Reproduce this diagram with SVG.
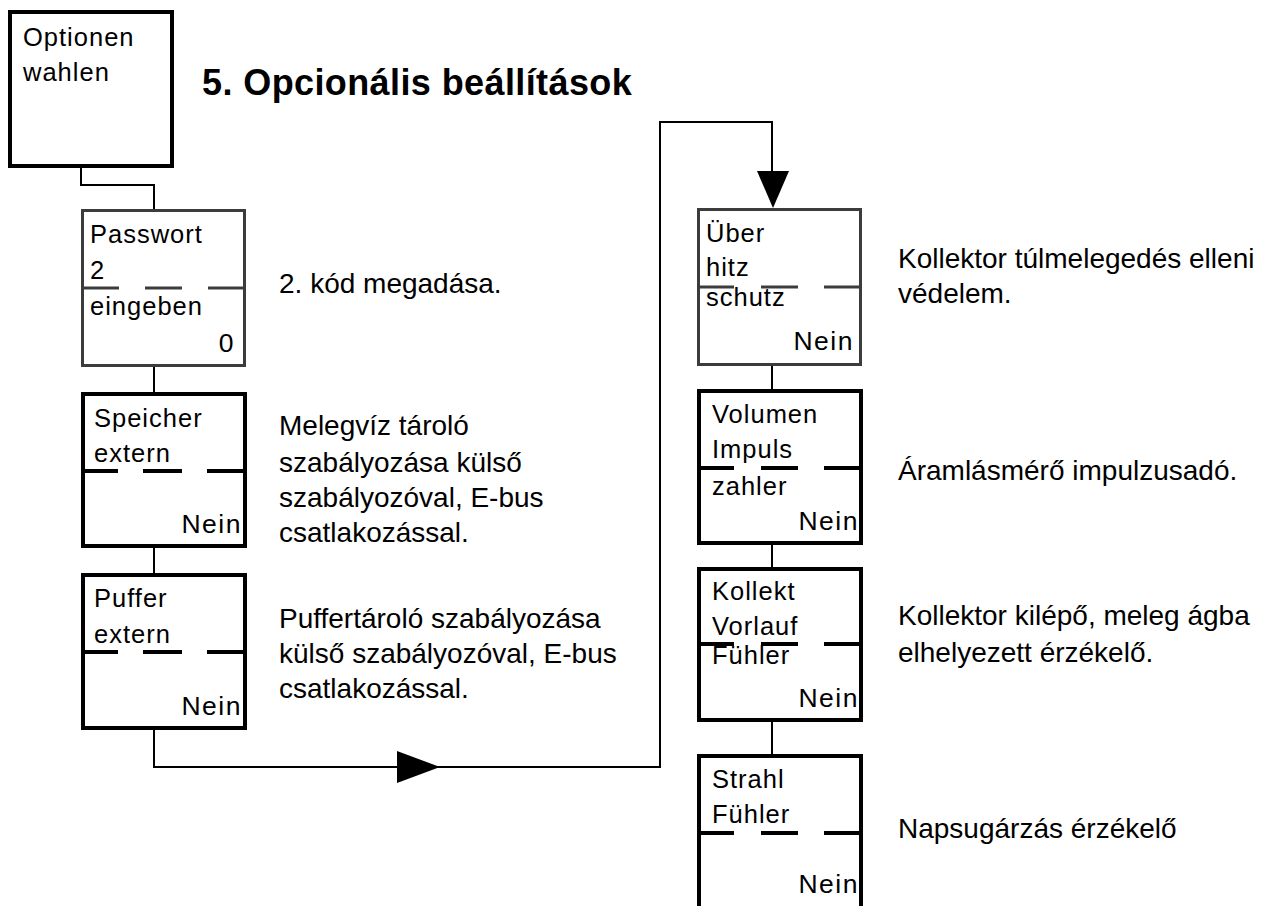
<svg xmlns="http://www.w3.org/2000/svg" width="1263" height="906" viewBox="0 0 1263 906">
<style>
text{font-family:"Liberation Sans",Arial,sans-serif;font-size:28px;fill:#000}
.t{font-weight:bold;font-size:36px;letter-spacing:0.4px}
.n text{font-size:25.5px;letter-spacing:1px}
.box{fill:#fff;stroke:#000;stroke-width:4}
.gbox{fill:#fff;stroke:#3c3c3c;stroke-width:3}
.dash{stroke:#000;stroke-width:4;fill:none}
.gdash{stroke:#3c3c3c;stroke-width:3;fill:none}
.con{stroke:#000;stroke-width:2;fill:none}
.n text.end{text-anchor:end;font-size:26.5px;letter-spacing:1.5px}
</style>
<rect width="1263" height="906" fill="#fff"/>
<g id="connectors">
<polyline class="con" points="81,167 81,185 154,185 154,209"/>
<line class="con" x1="154" y1="367" x2="154" y2="392"/>
<line class="con" x1="154" y1="548" x2="154" y2="573"/>
<polyline class="con" points="154,730 154,767 660,767 660,122 772,122 772,175"/>
<polygon points="397,751 440,767 397,783" fill="#000"/>
<polygon points="757,171 789,171 773,208" fill="#000"/>
<line class="con" x1="772" y1="366" x2="772" y2="389"/>
<line class="con" x1="772" y1="545" x2="772" y2="567"/>
<line class="con" x1="772" y1="722" x2="772" y2="754"/>
</g>
<g id="title"><text class="t" x="202" y="95">5. Opcionális beállítások</text></g>
<g id="optionen" class="n">
<rect class="box" x="10" y="12" width="162" height="154"/>
<text x="23" y="46">Optionen</text>
<text x="23" y="81">wahlen</text>
</g>
<g id="passwort" class="n">
<rect class="gbox" x="82.5" y="210.5" width="162" height="155"/>
<path class="gdash" d="M82,288H119M145,288H182M208,288H245"/>
<text x="90" y="243">Passwort</text>
<text x="90" y="279">2</text>
<text x="90" y="315">eingeben</text>
<text class="end" x="235" y="352">0</text>
</g>
<g id="speicher" class="n">
<rect class="box" x="83" y="394" width="162" height="152"/>
<path class="dash" d="M82,471H118M143,471H182M207,471H246"/>
<text x="94" y="427">Speicher</text>
<text x="94" y="462">extern</text>
<text class="end" x="242" y="533">Nein</text>
</g>
<g id="puffer" class="n">
<rect class="box" x="83" y="575" width="162" height="153"/>
<path class="dash" d="M82,652H118M143,652H182M207,652H246"/>
<text x="94" y="607">Puffer</text>
<text x="94" y="643">extern</text>
<text class="end" x="242" y="715">Nein</text>
</g>
<g id="uberhitz" class="n">
<rect class="gbox" x="698.5" y="209.5" width="162" height="155"/>
<path class="gdash" d="M698,287H734M761,287H798M824,287H861"/>
<text x="706" y="242">Über</text>
<text x="706" y="276">hitz</text>
<text x="706" y="306">schutz</text>
<text class="end" x="854" y="350">Nein</text>
</g>
<g id="volumen" class="n">
<rect class="box" x="699" y="391" width="162" height="152"/>
<path class="dash" d="M698,468H734M761,468H798M824,468H862"/>
<text x="712" y="423">Volumen</text>
<text x="712" y="458">Impuls</text>
<text x="712" y="495">zahler</text>
<text class="end" x="859" y="530">Nein</text>
</g>
<g id="kollekt" class="n">
<rect class="box" x="699" y="569" width="162" height="151"/>
<path class="dash" d="M698,644H734M761,644H798M824,644H862"/>
<text x="712" y="600">Kollekt</text>
<text x="712" y="635">Vorlauf</text>
<text x="712" y="664">Fühler</text>
<text class="end" x="859" y="707">Nein</text>
</g>
<g id="strahl" class="n">
<rect class="box" x="699" y="756" width="162" height="170"/>
<path class="dash" d="M698,833H734M761,833H798M824,833H862"/>
<text x="712" y="788">Strahl</text>
<text x="712" y="823">Fühler</text>
<text class="end" x="859" y="893">Nein</text>
</g>
<g id="descriptions">
<text x="279" y="293">2. kód megadása.</text>
<text x="279" y="435">Melegvíz tároló</text>
<text x="279" y="472">szabályozása külső</text>
<text x="279" y="507">szabályozóval, E-bus</text>
<text x="279" y="542">csatlakozással.</text>
<text x="279" y="628">Puffertároló szabályozása</text>
<text x="279" y="663">külső szabályozóval, E-bus</text>
<text x="279" y="698">csatlakozással.</text>
<text x="898" y="268">Kollektor túlmelegedés elleni</text>
<text x="898" y="303">védelem.</text>
<text x="898" y="480">Áramlásmérő impulzusadó.</text>
<text x="898" y="625">Kollektor kilépő, meleg ágba</text>
<text x="898" y="662">elhelyezett érzékelő.</text>
<text x="898" y="838">Napsugárzás érzékelő</text>
</g>
</svg>
